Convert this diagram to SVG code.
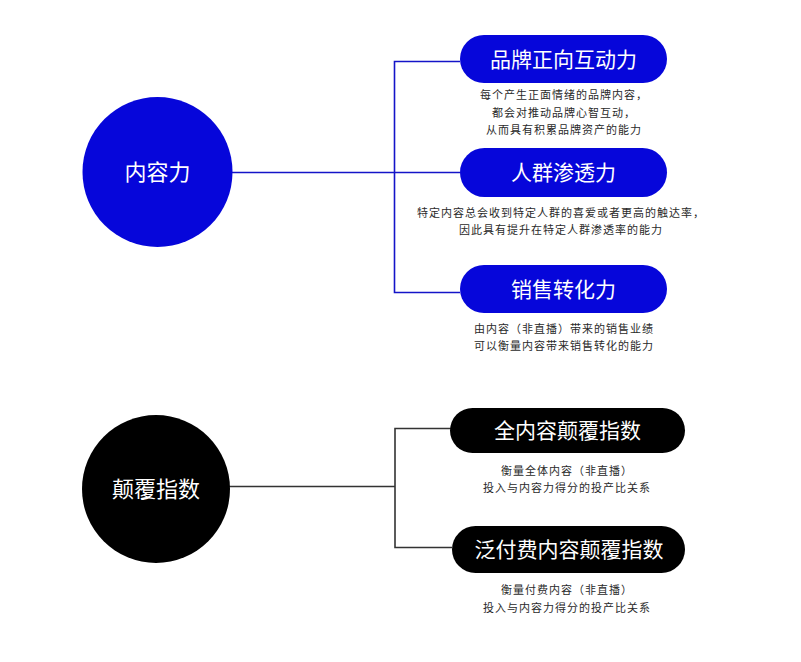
<svg xmlns="http://www.w3.org/2000/svg" width="801" height="662" viewBox="0 0 801 662">
<style>
.bg{fill:#ffffff}
.blue{fill:#0606DA}
.black{fill:#000000}
.title{font-family:"Noto Sans CJK SC","Noto Sans",sans-serif;fill:#ffffff;text-anchor:middle}
.desc{font-family:"Noto Sans CJK SC","Noto Sans",sans-serif;fill:#2a2a2a;font-size:11px;letter-spacing:1px;text-anchor:middle}
.cb{fill:none;stroke:#1414C8;stroke-width:1.6}
.ck{fill:none;stroke:#333333;stroke-width:1.6}
</style>
<rect class="bg" x="0" y="0" width="801" height="662"/>
<g id="connectors">
<path class="cb" d="M232,172.5 H460 M460,61.5 H394.5 V292.5 H460"/>
<path class="ck" d="M229,486.5 H395 M452,428.5 H395 V547.5 H452"/>
</g>
<g id="node-content">
<circle class="blue" cx="157.5" cy="172" r="75"/>
<text class="title" x="157.5" y="180" font-size="22">内容力</text>
</g>
<g id="node-brand">
<rect class="blue" x="460" y="35" width="207" height="48" rx="24"/>
<text class="title" x="563.5" y="66.5" font-size="21">品牌正向互动力</text>
<text class="desc" x="564" y="99">每个产生正面情绪的品牌内容，</text>
<text class="desc" x="564" y="117">都会对推动品牌心智互动，</text>
<text class="desc" x="564" y="134">从而具有积累品牌资产的能力</text>
</g>
<g id="node-crowd">
<rect class="blue" x="460" y="148" width="207" height="49" rx="24.5"/>
<text class="title" x="563.5" y="180" font-size="21">人群渗透力</text>
<text class="desc" x="561" y="217">特定内容总会收到特定人群的喜爱或者更高的触达率，</text>
<text class="desc" x="561" y="234">因此具有提升在特定人群渗透率的能力</text>
</g>
<g id="node-sales">
<rect class="blue" x="460" y="265" width="207" height="48" rx="24"/>
<text class="title" x="563.5" y="296.5" font-size="21">销售转化力</text>
<text class="desc" x="564" y="333">由内容（非直播）带来的销售业绩</text>
<text class="desc" x="564" y="350">可以衡量内容带来销售转化的能力</text>
</g>
<g id="node-index">
<circle class="black" cx="156" cy="489" r="74"/>
<text class="title" x="156" y="497" font-size="22">颠覆指数</text>
</g>
<g id="node-all">
<rect class="black" x="450" y="408" width="235" height="45" rx="22.5"/>
<text class="title" x="567.5" y="438" font-size="21">全内容颠覆指数</text>
<text class="desc" x="567" y="475">衡量全体内容（非直播）</text>
<text class="desc" x="567" y="492">投入与内容力得分的投产比关系</text>
</g>
<g id="node-paid">
<rect class="black" x="452" y="526" width="233" height="47" rx="23.5"/>
<text class="title" x="569" y="557" font-size="21">泛付费内容颠覆指数</text>
<text class="desc" x="567" y="594">衡量付费内容（非直播）</text>
<text class="desc" x="567" y="612">投入与内容力得分的投产比关系</text>
</g>
</svg>
